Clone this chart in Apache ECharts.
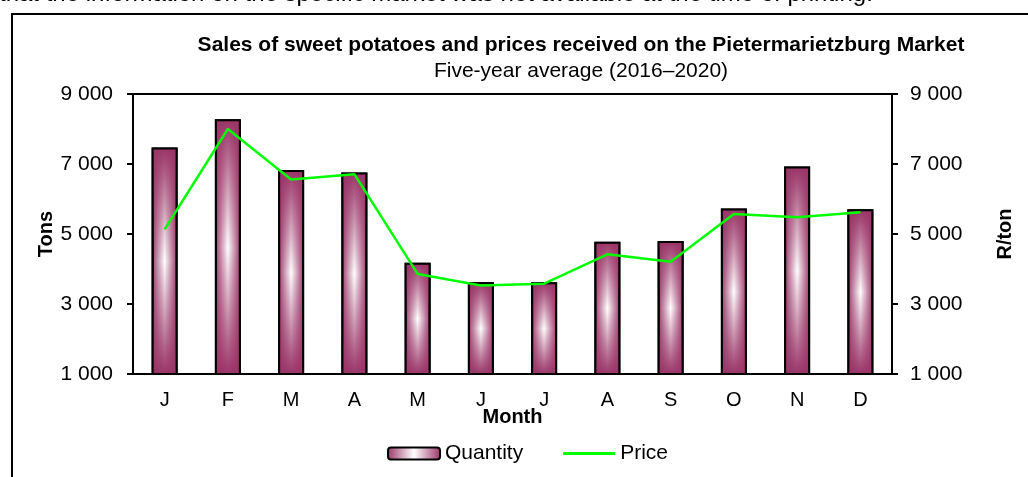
<!DOCTYPE html>
<html>
<head>
<meta charset="utf-8">
<script src="https://cdn.jsdelivr.net/npm/echarts@6/dist/echarts.min.js"></script>
<style>
html,body{margin:0;padding:0;background:#fff;}
#chart{width:1028px;height:477px;}
</style>
</head>
<body>
<div id="chart"></div>
<script>
// 月份标签
var months = ['J','F','M','A','M','J','J','A','S','O','N','D'];
// 销量 (tons)
var quantity = [7470,8280,6830,6760,4180,3630,3620,4780,4800,5730,6930,5710];
// 价格 (R/ton)
var price = [5130,8000,6560,6710,3860,3530,3580,4420,4210,5570,5480,5620];
var yTicks = {min:1000, max:9000, interval:2000};

var font = 'Liberation Sans, Arial, sans-serif';
var plum = '#993366';

function spaced(v){
    return String(v).replace(/\B(?=(\d{3})+(?!\d))/g, ' ');
}

var chart = echarts.init(document.getElementById('chart'));

var option = {
    backgroundColor:'#fff',
    textStyle:{fontFamily:font, color:'#000'},
    title:[{
        text:'Sales of sweet potatoes and prices received on the Pietermarietzburg Market',
        left:576, top:30, textAlign:'center',
        textStyle:{fontSize:21, fontWeight:'bold', color:'#000', fontFamily:font}
    },{
        text:'Five-year average (2016\u20132020)',
        left:576, top:56, textAlign:'center',
        textStyle:{fontSize:21, fontWeight:'normal', color:'#000', fontFamily:font}
    }],
    graphic:[{
        type:'text', left:-1, top:-18,
        style:{text:'that the information on the specific market was not available at the time of printing.',
            font:'24px ' + font, fill:'#000'}
    },{
        type:'rect', shape:{x:12, y:14, width:1100, height:500},
        style:{fill:'none', stroke:'#000', lineWidth:2}
    }],
    legend:{
        data:['Quantity',{name:'Price', icon:'path://M0,0 L52,0 L52,3 L0,3 Z'}],
        left:387, top:443,
        itemWidth:52, itemHeight:12, itemGap:40, padding:0,
        textStyle:{fontSize:21, color:'#000', fontFamily:font}
    },
    grid:{left:133, right:136, top:94, bottom:103, show:true, borderColor:'#000', borderWidth:2},
    xAxis:{
        type:'category', data:months,
        name:'Month', nameLocation:'middle', nameGap:33, nameMoveOverlap:false,
        nameTextStyle:{fontSize:20, fontWeight:'bold', color:'#000'},
        axisLine:{lineStyle:{color:'#000', width:2}},
        axisTick:{length:5, lineStyle:{color:'#000', width:2}},
        axisLabel:{fontSize:20, color:'#000', margin:16}
    },
    yAxis:[{
        type:'value', min:yTicks.min, max:yTicks.max, interval:yTicks.interval,
        name:'Tons', nameLocation:'middle', nameGap:77, nameMoveOverlap:false,
        nameTextStyle:{fontSize:20, fontWeight:'bold', color:'#000'},
        axisLine:{show:true, lineStyle:{color:'#000', width:2}},
        axisTick:{show:true, length:6, lineStyle:{color:'#000', width:2}},
        axisLabel:{fontSize:21, color:'#000', margin:20, formatter:spaced},
        splitLine:{show:false}
    },{
        type:'value', min:yTicks.min, max:yTicks.max, interval:yTicks.interval,
        name:'R/ton', nameLocation:'middle', nameGap:103, nameMoveOverlap:false,
        nameTextStyle:{fontSize:20, fontWeight:'bold', color:'#000'},
        axisLine:{show:true, lineStyle:{color:'#000', width:2}},
        axisTick:{show:true, length:6, lineStyle:{color:'#000', width:2}},
        axisLabel:{fontSize:21, color:'#000', margin:18, formatter:spaced},
        splitLine:{show:false}
    }],
    series:[{
        name:'Quantity', type:'bar', data:quantity, barWidth:26, barGap:'-100%',
        itemStyle:{
            color:new echarts.graphic.LinearGradient(0,0,1,0,[
                {offset:0, color:plum},{offset:0.5, color:'#ffffff'},{offset:1, color:plum}]),
            borderColor:'#000', borderWidth:2
        }
    },{
        name:'shade', type:'bar', data:quantity, barWidth:26, barGap:'-100%', silent:true,
        itemStyle:{
            color:new echarts.graphic.LinearGradient(0,0,0,1,[
                {offset:0, color:'rgba(153,51,102,1)'},{offset:0.5, color:'rgba(153,51,102,0)'},
                {offset:1, color:'rgba(153,51,102,1)'}]),
            borderColor:'#000', borderWidth:2
        }
    },{
        name:'Price', type:'line', yAxisIndex:1, data:price,
        symbol:'none', color:'#00ff00',
        lineStyle:{color:'#00ff00', width:2.5}
    }]
};
chart.setOption(option);
</script>
</body>
</html>
